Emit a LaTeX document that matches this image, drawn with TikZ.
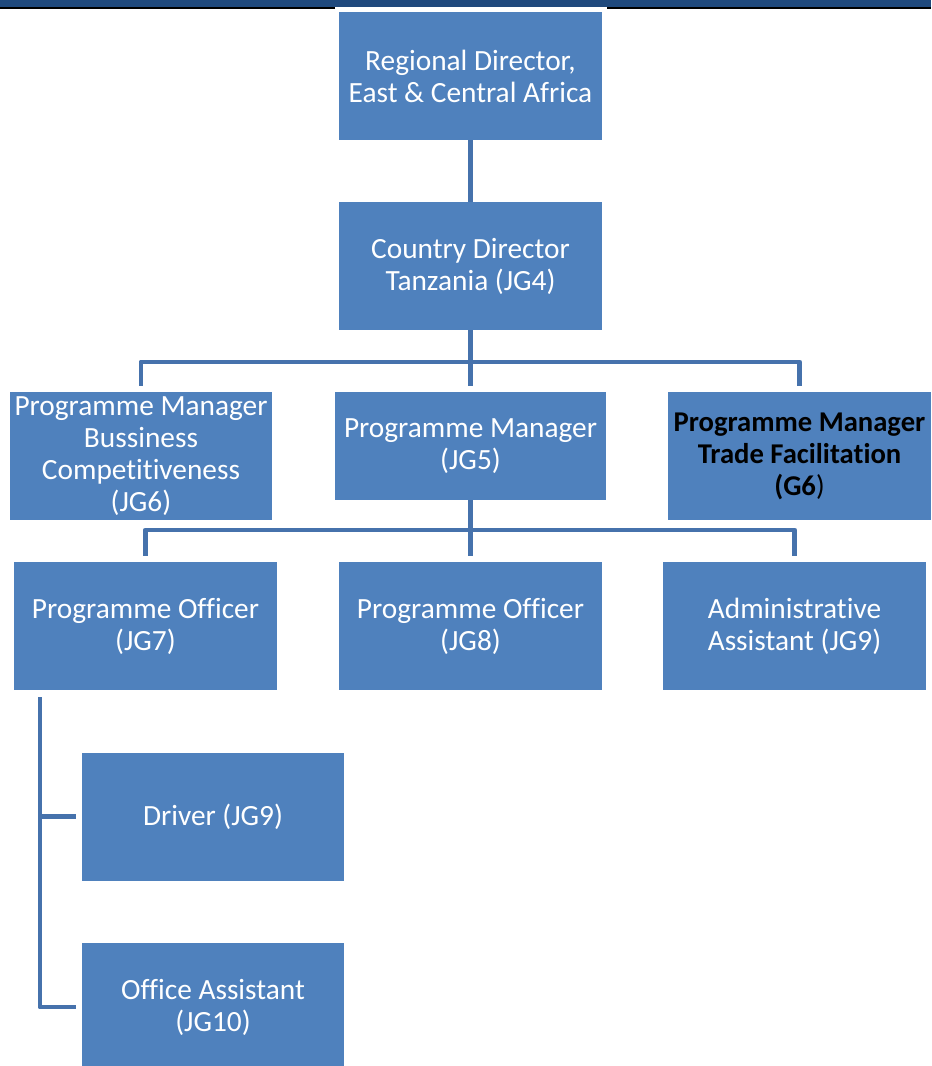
\documentclass[tikz,border=0pt]{standalone}
\usepackage{fontspec}
\setmainfont{Carlito}[Ligatures=NoCommon]
\definecolor{boxblue}{HTML}{4F81BD}
\definecolor{lineblue}{HTML}{4672AC}
\definecolor{barblue}{HTML}{1F497D}
\begin{document}
\begin{tikzpicture}[x=0.02cm,y=-0.02cm,
  post/.style={fill=boxblue,text=white,align=center,inner sep=0pt,
    minimum width=5.26cm,minimum height=2.56cm,
    font=\fontsize{16.7}{18.2}\selectfont},
  link/.style={draw=lineblue,line width=2.8pt,line join=round,shorten >=0.12cm}]
\useasboundingbox (0,0) rectangle (931,1066);
% header strip
\fill[barblue] (0,0) rectangle (931,7);
\draw[black,line width=1pt] (0,8)--(335,8) (607,8)--(931,8);
% boxes
\node[post] (rd) at (470.5,76) {Regional Director,\\East \& Central Africa};
\node[post] (cd) at (470.5,266) {Country Director\\Tanzania (JG4)};
\node[post,minimum width=5.24cm] (pmbc) at (141,456) {Programme Manager\\Bussiness\\Competitiveness\\(JG6)};
\node[post,minimum width=5.42cm,minimum height=2.16cm] (pm) at (470.5,446) {Programme Manager\\(JG5)};
\node[post,text=black,font=\fontsize{16.3}{18.2}\selectfont] (pmtf) at (799.5,456) {\textbf{Programme Manager}\\\textbf{Trade Facilitation}\\\textbf{(G6})};
\node[post] (po7) at (145.5,626) {Programme Officer\\(JG7)};
\node[post] (po8) at (470.5,626) {Programme Officer\\(JG8)};
\node[post] (aa) at (794.5,626) {Administrative\\Assistant (JG9)};
\node[post,minimum width=5.24cm] (drv) at (213,816.5) {Driver (JG9)};
\node[post,minimum width=5.24cm] (oa) at (213,1007) {Office Assistant\\(JG10)};
% connectors
\coordinate (b1) at (470.5,362);
\coordinate (b2) at (470.5,530);
\coordinate (l1) at (40,697);
\draw[link,shorten >=0pt] (rd) -- (cd);
\draw[link,shorten >=0pt] (cd) -- (b1);
\draw[link] (b1) -| (pmbc);
\draw[link] (b1) -- (pm);
\draw[link] (b1) -| (pmtf);
\draw[link,shorten >=0pt] (pm) -- (b2);
\draw[link] (b2) -| (po7);
\draw[link] (b2) -- (po8);
\draw[link] (b2) -| (aa);
\draw[link] (l1) |- (drv);
\draw[link] (l1) |- (oa);
\end{tikzpicture}
\end{document}
